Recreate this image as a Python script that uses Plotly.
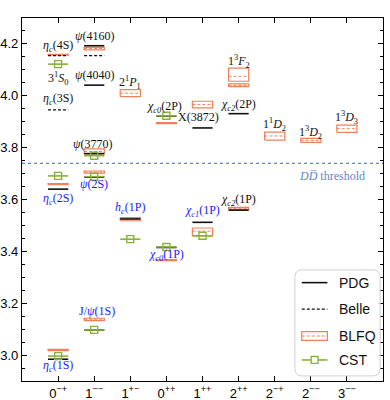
import plotly.graph_objects as go

# ---------------- data ----------------
JPC_LABELS = ["0<sup>−+</sup>", "1<sup>−−</sup>", "1<sup>+−</sup>", "0<sup>++</sup>", "1<sup>++</sup>",
              "2<sup>++</sup>", "2<sup>−+</sup>", "2<sup>−−</sup>", "3<sup>−−</sup>"]
JPC_POS = list(range(9))

PDG_X = [0, 0, 1, 1, 1, 1, 1, 2, 3, 3, 4, 4, 5, 5]
PDG_M = [2.984, 3.640, 3.097, 3.686, 3.777, 4.041, 4.193, 3.525, 3.415, 3.922, 3.512, 3.876, 3.559, 3.931]

BELLE_X = [0, 0, 1]
BELLE_M = [3.946, 4.155, 4.155]

BLFQ_X = [0, 0, 0, 1, 1, 1, 1, 2, 2, 3, 3, 4, 4, 5, 5, 5, 6, 7, 8]
BLFQ_C = [3.019, 3.659, 4.158, 3.138, 3.706, 3.785, 4.182, 3.524, 4.010, 3.366, 3.895,
          3.478, 3.966, 3.566, 4.075, 4.040, 3.845, 3.828, 3.873]
BLFQ_LO = [3.017, 3.657, 4.157, 3.133, 3.702, 3.776, 4.177, 3.518, 3.997, 3.364, 3.893,
           3.460, 3.953, 3.562, 4.056, 4.035, 3.829, 3.820, 3.859]
BLFQ_HI = [3.022, 3.661, 4.160, 3.142, 3.710, 3.795, 4.187, 3.530, 4.024, 3.368, 3.897,
           3.490, 3.979, 3.570, 4.107, 4.046, 3.860, 3.836, 3.887]

CST_X = [0, 0, 0, 1, 1, 1, 2, 3, 3, 4]
CST_M = [2.996, 3.691, 4.122, 3.097, 3.688, 3.769, 3.447, 3.417, 3.923, 3.460]

DD_THRESHOLD = 3.739

LABEL_TEXT = ["<i>η<sub>c</sub></i>(4S)", "3<sup>1</sup><i>S</i><sub>0</sub>", "<i>η<sub>c</sub></i>(3S)",
              "<i>ψ</i>(4160)", "<i>ψ</i>(4040)", "<i>ψ</i>(3770)", "2<sup>1</sup><i>P</i><sub>1</sub>",
              "<i>χ<sub>c0</sub></i>(2P)", "X(3872)", "<i>χ<sub>c2</sub></i>(2P)",
              "1<sup>3</sup><i>F</i><sub>2</sub>", "1<sup>1</sup><i>D</i><sub>2</sub>",
              "1<sup>3</sup><i>D</i><sub>2</sub>", "1<sup>3</sup><i>D</i><sub>3</sub>",
              "<i>χ<sub>c2</sub></i>(1P)",
              "<i>η<sub>c</sub></i>(2S)", "<i>ψ</i>(2S)", "<i>h<sub>c</sub></i>(1P)",
              "<i>χ<sub>c1</sub></i>(1P)", "<i>χ<sub>c0</sub></i>(1P)", "J/<i>ψ</i>(1S)",
              "<i>η<sub>c</sub></i>(1S)"]
LABEL_X = [0, 0, 0, 1, 1, 0.96, 1.98, 2.94, 3.88, 5, 5, 6, 7, 8, 5,
           0, 1, 2.0, 3.99, 2.99, 1.09, 0]
LABEL_Y = [4.193, 4.065, 3.988, 4.232, 4.080, 3.814, 4.053, 3.957, 3.918, 3.964, 4.134,
           3.891, 3.859, 3.917, 3.598,
           3.601, 3.659, 3.566, 3.556, 3.385, 3.170, 2.958]
LABEL_BLUE = [False] * 15 + [True] * 7

HW = 0.28  # half width of a level (x units)
BLFQ_COLOR = "#F0805C"
CST_COLOR = "#8AB23A"
BLACK = "#111111"
THR_COLOR = "#5F86C6"


def segs(xs, ys):
    px, py = [], []
    for x, y in zip(xs, ys):
        px += [x - HW, x + HW, None]
        py += [y, y, None]
    return px, py


fig = go.Figure()

# BLFQ boxes
bx, by = [], []
for x, lo, hi in zip(BLFQ_X, BLFQ_LO, BLFQ_HI):
    bx += [x - HW, x + HW, x + HW, x - HW, x - HW, None]
    by += [lo, lo, hi, hi, lo, None]
fig.add_trace(go.Scatter(x=bx, y=by, mode="lines", line=dict(color=BLFQ_COLOR, width=1.2),
                         showlegend=False, hoverinfo="skip"))
cx, cy = segs(BLFQ_X, BLFQ_C)
fig.add_trace(go.Scatter(x=cx, y=cy, mode="lines", line=dict(color=BLFQ_COLOR, width=1, dash="3px,2px"),
                         showlegend=False, hoverinfo="skip"))

# PDG
px_, py_ = segs(PDG_X, PDG_M)
fig.add_trace(go.Scatter(x=px_, y=py_, mode="lines", line=dict(color=BLACK, width=1.6),
                         showlegend=False, hoverinfo="skip"))
# Belle
ex, ey = segs(BELLE_X, BELLE_M)
fig.add_trace(go.Scatter(x=ex, y=ey, mode="lines", line=dict(color=BLACK, width=1.3, dash="3px,2px"),
                         showlegend=False, hoverinfo="skip"))
# CST
sx, sy = segs(CST_X, CST_M)
fig.add_trace(go.Scatter(x=sx, y=sy, mode="lines", line=dict(color=CST_COLOR, width=1.6),
                         showlegend=False, hoverinfo="skip"))
fig.add_trace(go.Scatter(x=CST_X, y=CST_M, mode="markers",
                         marker=dict(symbol="square-open", size=7, color=CST_COLOR, line=dict(width=1.4)),
                         showlegend=False, hoverinfo="skip"))

# threshold
fig.add_trace(go.Scatter(x=[-1, 9], y=[DD_THRESHOLD, DD_THRESHOLD], mode="lines",
                         line=dict(color=THR_COLOR, width=1.3, dash="dot"), showlegend=False, hoverinfo="skip"))
fig.add_annotation(x=8.55, y=DD_THRESHOLD - 0.012, xref="x", yref="y", xanchor="right", yanchor="top",
                   text="<i>D</i><i>D\u0305</i> threshold", showarrow=False,
                   font=dict(family="Liberation Serif", size=12, color=THR_COLOR))

for t, x, y, b in zip(LABEL_TEXT, LABEL_X, LABEL_Y, LABEL_BLUE):
    fig.add_annotation(x=x, y=y, xref="x", yref="y", text=t, showarrow=False,
                       font=dict(family="Liberation Serif", size=12, color="#1a1aff" if b else "#111111"))

# ---------------- manual legend ----------------
x0p, x1p = 0.756, 0.992
y0p, y1p = 0.014, 0.306
r = 0.02
rr = r * 361 / 363
path = (f"M {x0p + r},{y0p} L {x1p - r},{y0p} Q {x1p},{y0p} {x1p},{y0p + rr} "
        f"L {x1p},{y1p - rr} Q {x1p},{y1p} {x1p - r},{y1p} L {x0p + r},{y1p} "
        f"Q {x0p},{y1p} {x0p},{y1p - rr} L {x0p},{y0p + rr} Q {x0p},{y0p} {x0p + r},{y0p} Z")
fig.add_shape(type="path", path=path, xref="paper", yref="paper",
              line=dict(color="#d0d0d0", width=1), fillcolor="rgba(255,255,255,0.85)", layer="above")

leg_names = ["PDG", "Belle", "BLFQ", "CST"]
leg_y = [0.271, 0.198, 0.124, 0.058]
lx0, lx1 = 0.775, 0.846
fig.add_shape(type="line", xref="paper", yref="paper", x0=lx0, x1=lx1, y0=leg_y[0], y1=leg_y[0],
              line=dict(color=BLACK, width=1.6), layer="above")
fig.add_shape(type="line", xref="paper", yref="paper", x0=lx0, x1=lx1, y0=leg_y[1], y1=leg_y[1],
              line=dict(color=BLACK, width=1.3, dash="3px,2px"), layer="above")
fig.add_shape(type="rect", xref="paper", yref="paper", x0=lx0, x1=lx1, y0=leg_y[2] - 0.012, y1=leg_y[2] + 0.012,
              line=dict(color=BLFQ_COLOR, width=1.2), layer="above")
fig.add_shape(type="line", xref="paper", yref="paper", x0=lx0, x1=lx1, y0=leg_y[2], y1=leg_y[2],
              line=dict(color=BLFQ_COLOR, width=1, dash="3px,2px"), layer="above")
fig.add_shape(type="line", xref="paper", yref="paper", x0=lx0, x1=lx1, y0=leg_y[3], y1=leg_y[3],
              line=dict(color=CST_COLOR, width=1.6), layer="above")
fig.add_shape(type="rect", xref="paper", yref="paper", x0=(lx0 + lx1) / 2 - 0.0095, x1=(lx0 + lx1) / 2 + 0.0095,
              y0=leg_y[3] - 0.0095, y1=leg_y[3] + 0.0095,
              line=dict(color=CST_COLOR, width=1.4), fillcolor="white", layer="above")
for n, yy in zip(leg_names, leg_y):
    fig.add_annotation(x=0.872, y=yy, xref="paper", yref="paper", text=n, showarrow=False,
                       xanchor="left", yanchor="middle",
                       font=dict(family="Liberation Sans", size=14, color=BLACK))

fig.update_layout(
    width=390, height=400,
    margin=dict(l=22, r=7, t=18, b=19, autoexpand=False),
    paper_bgcolor="white", plot_bgcolor="white",
    font=dict(family="Liberation Sans", size=13, color="black"),
    showlegend=False,
)
fig.update_xaxes(range=[-1, 9], tickvals=JPC_POS, ticktext=JPC_LABELS, ticks="inside", ticklen=5,
                 tickcolor="black", showline=True, linecolor="black", linewidth=1.2, mirror="ticks",
                 showgrid=False, zeroline=False, tickfont=dict(size=13), automargin=False)
fig.update_yaxes(range=[2.9, 4.3], tickvals=[3.0, 3.2, 3.4, 3.6, 3.8, 4.0, 4.2],
                 ticktext=["3.0", "3.2", "3.4", "3.6", "3.8", "4.0", "4.2"],
                 ticks="inside", ticklen=5, tickcolor="black",
                 minor=dict(ticks="inside", ticklen=3, dtick=0.05, tick0=2.9, tickcolor="black", showgrid=False),
                 showline=True, linecolor="black", linewidth=1.2, mirror="ticks",
                 showgrid=False, zeroline=False, tickfont=dict(size=13), automargin=False)

fig.write_html("out.html", config={"displayModeBar": False},
               post_script="document.body.style.margin='0';document.body.style.overflow='hidden';")
